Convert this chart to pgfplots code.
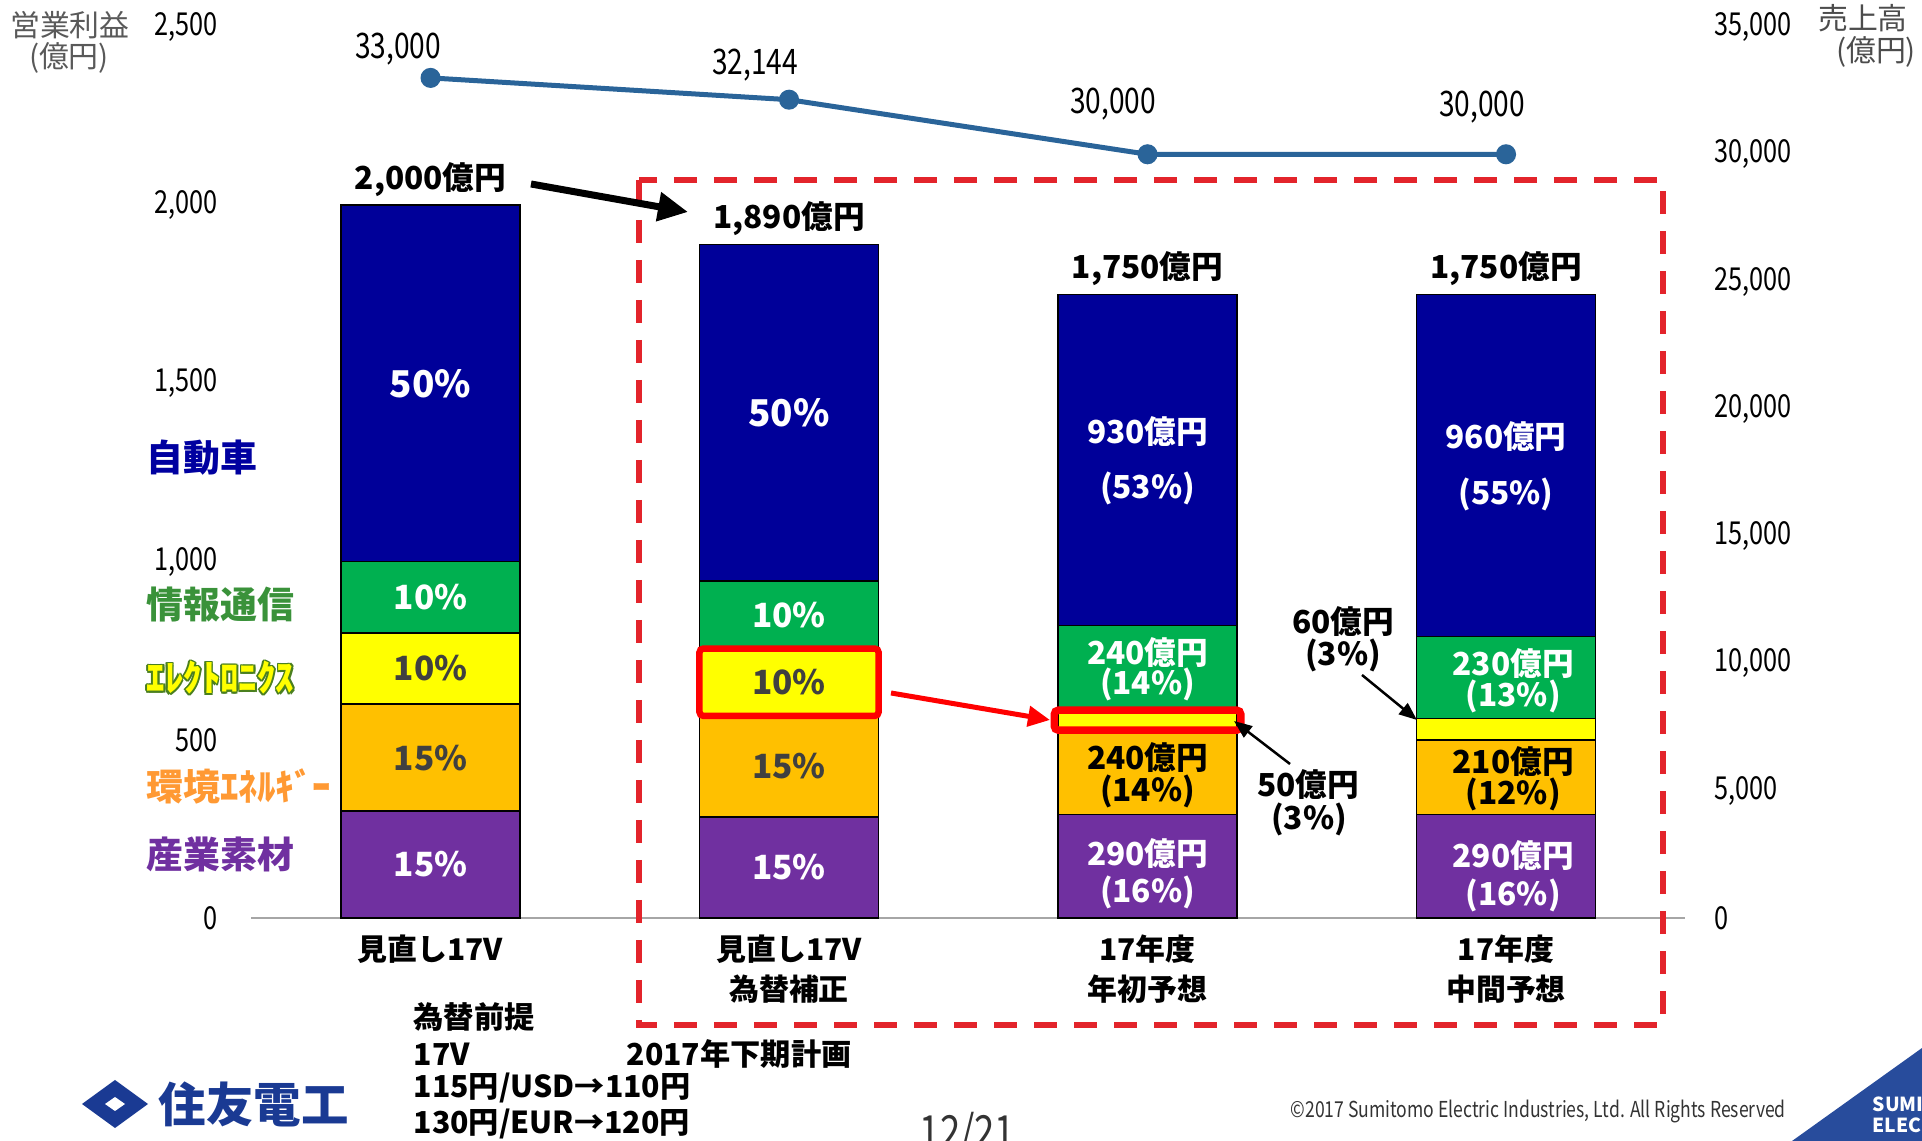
\documentclass[border=0pt]{standalone}
\usepackage{pgfplots}
\usepackage{pgfplotstable}
\pgfplotsset{compat=1.18}
\usetikzlibrary{arrows.meta}
\usepackage{fontspec}
\setmainfont{Noto Sans CJK JP}
\newfontfamily\cond{Noto Sans CJK JP}[FakeStretch=0.8]
\definecolor{cPurple}{HTML}{7030A0}
\definecolor{cOrange}{HTML}{FFC000}
\definecolor{cYellow}{HTML}{FFFF00}
\definecolor{cGreen}{HTML}{00B050}
\definecolor{cBlue}{HTML}{000099}
\definecolor{cLine}{HTML}{2A6499}
\definecolor{cRed}{HTML}{E3242B}
\definecolor{cLogo}{HTML}{1A3A93}
\definecolor{cCorner}{HTML}{284C9C}
\definecolor{cDark}{HTML}{404040}
\definecolor{tNavy}{HTML}{0000A0}
\definecolor{tGreen}{HTML}{3A923A}
\definecolor{tEOut}{HTML}{4A7F1F}
\definecolor{tOrange}{HTML}{FF9933}
\definecolor{tPurple}{HTML}{7030A0}
\pgfplotstableread{
x purple orange yellow green blue sales
0 300 300 200 200 1000 33000
1 283.5 283.5 189 189 945 32144
2 290 240 50 240 930 30000
3 290 210 60 230 960 30000
}\datatable
\tikzset{
  lab/.style={font=\bfseries\fontsize{9}{9}\selectfont, inner sep=0pt},
  pct/.style={font=\bfseries\fontsize{9.5}{9.5}\selectfont, inner sep=0pt},
}
\begin{document}
\begin{tikzpicture}
\path[use as bounding box] (-25.13mm,-22.3mm) rectangle (167.07mm,91.8mm);
\begin{axis}[
  at={(0,0)}, anchor=south west,
  scale only axis, width=143.4mm, height=89.1mm,
  xmin=-0.5, xmax=3.5, ymin=0, ymax=2500,
  ybar stacked, bar width=0.5,
  axis x line*=bottom, axis y line*=left,
  y axis line style={draw=none},
  x axis line style={draw=black!35, line width=0.25mm},
  xtick={0,1,2,3},
  xticklabels={{見直し17V},{見直し17V\\為替補正},{17年度\\年初予想},{17年度\\中間予想}},
  xticklabel style={font=\bfseries\fontsize{8.5}{11.4}\selectfont, align=center, anchor=north, inner sep=0pt, yshift=-1.6mm},
  ytick={0,500,1000,1500,2000,2500},
  yticklabel style={font=\cond\fontsize{9}{9}\selectfont, anchor=east, inner sep=0pt, xshift=-3.3mm},
  /pgf/number format/assume math mode=true,
  /pgf/number format/1000 sep={,},
  major tick length=0pt,
  tick style={draw=none},
  clip=false,
]
\addplot[fill=cPurple, draw=black, line width=0.15mm] table[x=x,y=purple]{\datatable};
\addplot[fill=cOrange, draw=black, line width=0.15mm] table[x=x,y=orange]{\datatable};
\addplot[fill=cYellow, draw=black, line width=0.15mm] table[x=x,y=yellow]{\datatable};
\addplot[fill=cGreen, draw=black, line width=0.15mm] table[x=x,y=green]{\datatable};
\addplot[fill=cBlue, draw=black, line width=0.15mm] table[x=x,y=blue]{\datatable};
\end{axis}
\begin{axis}[
  at={(0,0)}, anchor=south west,
  scale only axis, width=143.4mm, height=89.1mm,
  xmin=-0.5, xmax=3.5, ymin=0, ymax=35000,
  axis x line=none, axis y line*=right,
  y axis line style={draw=none},
  ytick={0,5000,10000,15000,20000,25000,30000,35000},
  scaled y ticks=false,
  yticklabel style={font=\cond\fontsize{9}{9}\selectfont, anchor=west, inner sep=0pt, xshift=2.85mm},
  /pgf/number format/assume math mode=true,
  /pgf/number format/1000 sep={,},
  major tick length=0pt,
  tick style={draw=none},
  clip=false,
]
\addplot[cLine, line width=0.5mm, mark=*, mark size=0.75mm, mark options={fill=cLine, draw=cLine}] table[x=x,y=sales]{\datatable};
% labels inside bars (y in this axis = left-axis value x 14)
% bar 1
\node[pct, text=white] at (axis cs:0,2100) {15\%};
\node[pct, text=cDark] at (axis cs:0,6300) {15\%};
\node[pct, text=cDark] at (axis cs:0,9800) {10\%};
\node[pct, text=white] at (axis cs:0,12600) {10\%};
\node[pct, text=white, font=\bfseries\fontsize{10.5}{10.5}\selectfont] at (axis cs:0,21000) {50\%};
% bar 2
\node[pct, text=white] at (axis cs:1,1984.5) {15\%};
\node[pct, text=cDark] at (axis cs:1,5953.5) {15\%};
\node[pct, text=cDark] at (axis cs:1,9261) {10\%};
\node[pct, text=white] at (axis cs:1,11907) {10\%};
\node[pct, text=white, font=\bfseries\fontsize{10.5}{10.5}\selectfont] at (axis cs:1,19845) {50\%};
% bar 3
\node[lab, text=white] at (axis cs:2,19124) {930億円};
\node[lab, text=white] at (axis cs:2,16856) {(53\%)};
\node[lab, text=white] at (axis cs:2,10444) {240億円};
\node[lab, text=white] at (axis cs:2,9156) {(14\%)};
\node[lab, text=black] at (axis cs:2,6286) {240億円};
\node[lab, text=black] at (axis cs:2,4984) {(14\%)};
\node[lab, text=white] at (axis cs:2,2520) {290億円};
\node[lab, text=white] at (axis cs:2,1022) {(16\%)};
% bar 4
\node[lab, text=white] at (axis cs:3,18928) {960億円};
\node[lab, text=white] at (axis cs:3,16618) {(55\%)};
\node[lab, text=white] at (axis cs:3.02,10010) {230億円};
\node[lab, text=white] at (axis cs:3.02,8722) {(13\%)};
\node[lab, text=black] at (axis cs:3.02,6160) {210億円};
\node[lab, text=black] at (axis cs:3.02,4872) {(12\%)};
\node[lab, text=white] at (axis cs:3.02,2436) {290億円};
\node[lab, text=white] at (axis cs:3.02,868) {(16\%)};
% totals
\node[lab, text=black, yshift=2.6mm] at (axis cs:0,28000) {2,000億円};
\node[lab, text=black, yshift=2.6mm] at (axis cs:1,26460) {1,890億円};
\node[lab, text=black, yshift=2.6mm] at (axis cs:2,24500) {1,750億円};
\node[lab, text=black, yshift=2.6mm] at (axis cs:3,24500) {1,750億円};
% highlight boxes
\draw[red, line width=0.65mm, rounded corners=0.4mm] (axis cs:0.75,7938) rectangle (axis cs:1.25,10584);
\draw[red, line width=0.75mm, rounded corners=0.4mm] (axis cs:1.74,7378) rectangle (axis cs:2.26,8162);
\end{axis}
\begin{scope}[shift={(-25.13mm,91.8mm)}, x=0.1mm, y=-0.1mm]
% axis titles
\node[font=\fontsize{8.5}{8.5}\selectfont, text=black!65, inner sep=0pt] at (70,25) {営業利益};
\node[font=\fontsize{8.5}{8.5}\selectfont, text=black!65, inner sep=0pt] at (69,58) {(億円)};
\node[font=\fontsize{8.5}{8.5}\selectfont, text=black!70, inner sep=0pt] at (1863,18) {売上高};
\node[font=\fontsize{8.5}{8.5}\selectfont, text=black!70, inner sep=0pt] at (1876,52) {(億円)};
% line labels
\node[font=\cond\fontsize{10}{10}\selectfont, inner sep=0pt] at (398,49) {33,000};
\node[font=\cond\fontsize{10}{10}\selectfont, inner sep=0pt] at (755,65) {32,144};
\node[font=\cond\fontsize{10}{10}\selectfont, inner sep=0pt] at (1113,104) {30,000};
\node[font=\cond\fontsize{10}{10}\selectfont, inner sep=0pt] at (1482,107) {30,000};
% segment names
\node[font=\bfseries\fontsize{10.5}{10.5}\selectfont, text=tNavy, anchor=west, inner sep=0pt] at (146,458) {自動車};
\node[font=\bfseries\fontsize{10.5}{10.5}\selectfont, text=tGreen, anchor=west, inner sep=0pt] at (146,605) {情報通信};
\foreach \dx/\dy in {1.8/0,-1.8/0,0/1.8,0/-1.8,1.3/1.3,-1.3/1.3,1.3/-1.3,-1.3/-1.3}
  \node[font=\bfseries\fontsize{10.5}{10.5}\selectfont, text=tEOut, anchor=west, inner sep=0pt] at ({146+\dx},{678+\dy}) {ｴﾚｸﾄﾛﾆｸｽ};
\node[font=\bfseries\fontsize{10.5}{10.5}\selectfont, text=cYellow, anchor=west, inner sep=0pt] at (146,678) {ｴﾚｸﾄﾛﾆｸｽ};
\node[font=\bfseries\fontsize{10.5}{10.5}\selectfont, text=tOrange, anchor=west, inner sep=0pt] at (146,786) {環境ｴﾈﾙｷﾞｰ};
\node[font=\bfseries\fontsize{10.5}{10.5}\selectfont, text=tPurple, anchor=west, inner sep=0pt] at (146,854) {産業素材};
% red dashed frame
\draw[cRed, line width=0.6mm, dash pattern=on 2.3mm off 1.7mm] (639,180) rectangle (1663,1025);
% arrows
\draw[black, line width=0.7mm, -{Triangle[length=3mm,width=2.8mm]}] (531,184) -- (688,212);
\draw[red, line width=0.5mm, -{Triangle[length=2.2mm,width=2mm]}] (891,693) -- (1050,720);
\draw[black, line width=0.25mm, -{Triangle[length=1.8mm,width=1.4mm]}] (1290,764) -- (1234,721);
\draw[black, line width=0.25mm, -{Triangle[length=1.8mm,width=1.4mm]}] (1362,675) -- (1417,720);
\node[font=\bfseries\fontsize{9}{9}\selectfont, inner sep=0pt] at (1308,785) {50億円};
\node[font=\bfseries\fontsize{9}{9}\selectfont, inner sep=0pt] at (1309,819) {(3\%)};
\node[font=\bfseries\fontsize{9}{9}\selectfont, inner sep=0pt] at (1343,622) {60億円};
\node[font=\bfseries\fontsize{9}{9}\selectfont, inner sep=0pt] at (1343,655) {(3\%)};
% footnote
\node[font=\bfseries\fontsize{8.6}{8.6}\selectfont, anchor=west, inner sep=0pt] at (413,1017) {為替前提};
\node[font=\bfseries\fontsize{8.6}{8.6}\selectfont, anchor=west, inner sep=0pt] at (413,1054) {17V};
\node[font=\bfseries\fontsize{8.6}{8.6}\selectfont, anchor=west, inner sep=0pt] at (626,1054) {2017年下期計画};
\node[font=\bfseries\fontsize{8.6}{8.6}\selectfont, anchor=west, inner sep=0pt] at (413,1088) {115円/USD→110円};
\node[font=\bfseries\fontsize{8.6}{8.6}\selectfont, anchor=west, inner sep=0pt] at (413,1124) {130円/EUR→120円};
% logo
\fill[cLogo] (82,1104) -- (115,1080) -- (148,1104) -- (115,1128) -- cycle;
\fill[white] (105,1104) -- (115,1097) -- (125,1104) -- (115,1111) -- cycle;
\node[font=\bfseries\fontsize{13.5}{13.5}\selectfont, text=cLogo, anchor=west, inner sep=0pt] at (158,1104) {住友電工};
% page number and copyright
\node[font=\cond\fontsize{13}{13}\selectfont, text=black!80, anchor=north west, inner sep=0pt] at (919,1112) {12/21};
\node[font=\cond\fontsize{6.25}{6.25}\selectfont, text=black!80, anchor=west, inner sep=0pt] at (1290,1112) {©2017 Sumitomo Electric Industries, Ltd. All Rights Reserved};
\fill[cCorner] (1792,1141) -- (1922,1048) -- (1922,1141) -- cycle;
\node[font=\bfseries\fontsize{5.5}{5.5}\selectfont, text=white, anchor=west, inner sep=0pt] at (1872,1104) {SUMIT};
\node[font=\bfseries\fontsize{5.5}{5.5}\selectfont, text=white, anchor=west, inner sep=0pt] at (1872,1125) {ELEC};
\end{scope}
\end{tikzpicture}
\end{document}
